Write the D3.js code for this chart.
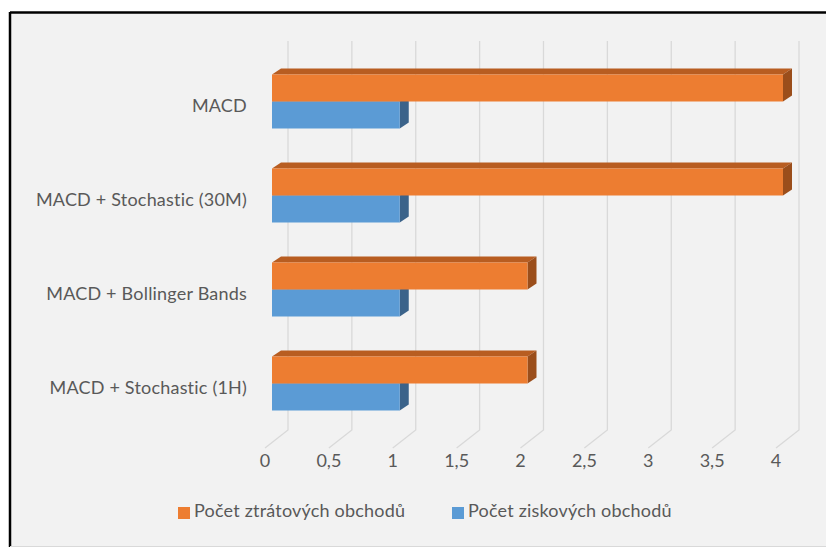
<!DOCTYPE html>
<html>
<head>
<meta charset="utf-8">
<script src="https://d3js.org/d3.v7.min.js"></script>
<style>
  body { margin: 0; background: #fff; }
  text { font-family: Lato, "Noto Sans", sans-serif; fill: #595959; }
</style>
</head>
<body>
<div id="chart"></div>
<script>
// data
var categories = ["MACD", "MACD + Stochastic (30M)", "MACD + Bollinger Bands", "MACD + Stochastic (1H)"];
var seriesNames = ["Počet ztrátových obchodů", "Počet ziskových obchodů"];
var lossTrades = [4, 4, 2, 2];
var winTrades = [1, 1, 1, 1];
var tickValues = [0, 0.5, 1, 1.5, 2, 2.5, 3, 3.5, 4];

var W = 826, H = 547;
var colors = {
  front: ["#ed7d31", "#5b9bd5"],
  top: ["#b85d21", "#3f6d99"],
  side: ["#9b4e1b", "#3b638a"]
};
var dx = 9, dy = -6;          // bar depth
var backDx = 16, floorBack = 430, floorFront = 448, gridTop = 41;
var fs = "18px";

var svg = d3.select("#chart").append("svg")
    .attr("width", W).attr("height", H);

// chart area frame
svg.append("rect").attr("x", 10).attr("y", 13).attr("width", W).attr("height", 533)
    .attr("fill", "#f2f2f2");
svg.append("line").attr("x1", 10).attr("x2", W).attr("y1", 12.5).attr("y2", 12.5)
    .attr("stroke", "#000").attr("stroke-width", 2.5);
svg.append("line").attr("x1", 10).attr("x2", 10).attr("y1", 12).attr("y2", 547)
    .attr("stroke", "#000").attr("stroke-width", 2.5);
svg.append("line").attr("x1", 10).attr("x2", W).attr("y1", 546.5).attr("y2", 546.5)
    .attr("stroke", "#d9d9d9").attr("stroke-width", 1);

var x = d3.scaleLinear().domain([0, 4]).range([272, 783]);
var y = d3.scaleBand().domain(categories).range([54.5, 430.5]);
var ySub = d3.scaleBand().domain([0, 1]).range([y.bandwidth() / 2 - 27, y.bandwidth() / 2 + 27]);

// back wall gridlines + floor diagonals
var grid = svg.append("g");
tickValues.forEach(function(v) {
  var xb = x(v) + backDx;
  grid.append("path")
    .attr("d", "M" + xb + "," + gridTop + "L" + xb + "," + floorBack + "L" + (x(v) - 7) + "," + floorFront)
    .attr("fill", "none").attr("stroke", "#d9d9d9").attr("stroke-width", 1.3);
});

// axis tick labels
svg.append("g").selectAll("text").data(tickValues).enter().append("text")
    .attr("x", function(d) { return x(d) - 7; })
    .attr("y", 462)
    .attr("text-anchor", "middle")
    .attr("dominant-baseline", "middle")
    .style("font-size", fs)
    .text(function(d) { return String(d).replace(".", ","); });

// category labels
svg.append("g").selectAll("text").data(categories).enter().append("text")
    .attr("x", 247)
    .attr("y", function(d) { return y(d) + y.bandwidth() / 2 + 6; })
    .attr("text-anchor", "end")
    .attr("dominant-baseline", "middle")
    .style("font-size", fs)
    .style("letter-spacing", "0.2px")
    .text(function(d) { return d; });

// 3d bars: blue (win) drawn first, orange on top
function drawBar(g, cat, value, s) {
  var y0 = y(cat) + ySub(s), y1 = y0 + ySub.bandwidth();
  var x0 = x(0), x1 = x(value);
  g.append("path")
    .attr("d", "M" + x0 + "," + y0 + "L" + (x0 + dx) + "," + (y0 + dy) + "L" + (x1 + dx) + "," + (y0 + dy) + "L" + x1 + "," + y0 + "Z")
    .attr("fill", colors.top[s]);
  g.append("path")
    .attr("d", "M" + x1 + "," + y0 + "L" + (x1 + dx) + "," + (y0 + dy) + "L" + (x1 + dx) + "," + (y1 + dy) + "L" + x1 + "," + y1 + "Z")
    .attr("fill", colors.side[s]);
  g.append("rect")
    .attr("x", x0).attr("y", y0).attr("width", x1 - x0).attr("height", y1 - y0)
    .attr("fill", colors.front[s]);
}
var bars = svg.append("g");
categories.forEach(function(c, i) {
  drawBar(bars, c, winTrades[i], 1);
  drawBar(bars, c, lossTrades[i], 0);
});

// legend
var legendX = [178, 452];
var leg = svg.append("g").selectAll("g").data(seriesNames).enter().append("g")
    .attr("transform", function(d, i) { return "translate(" + legendX[i] + ",507)"; });
leg.append("rect").attr("width", 12).attr("height", 12)
    .attr("fill", function(d, i) { return colors.front[i]; });
leg.append("text").attr("x", 16).attr("y", 5)
    .attr("dominant-baseline", "middle")
    .style("font-size", fs)
    .style("letter-spacing", "0.2px")
    .text(function(d) { return d; });
</script>
</body>
</html>
